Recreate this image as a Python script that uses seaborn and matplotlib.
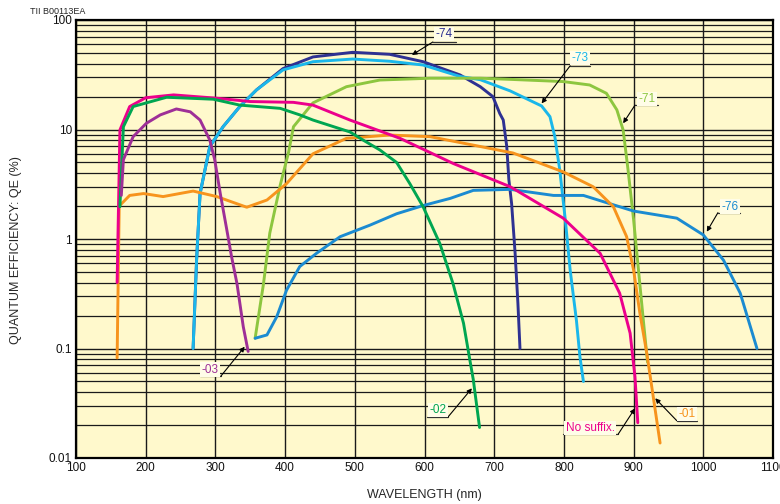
import numpy as np
import pandas as pd
import matplotlib
matplotlib.use("Agg")
import matplotlib.pyplot as plt
import matplotlib.ticker as mticker
import seaborn as sns

# ---------------- data (wavelength nm, QE %) ----------------
wl_74 = [268, 273, 278, 292, 311, 335, 359, 397, 440, 497, 550, 598, 651, 680, 698, 708, 713, 718, 721, 725, 730, 734, 737]
qe_74 = [0.1, 0.64, 2.6, 7.0, 10.6, 16.2, 23, 36, 46, 50.7, 48.6, 41.6, 31.5, 24.6, 20, 14, 12.2, 7.0, 3.5, 2.1, 0.74, 0.26, 0.10]

wl_73 = [268, 273, 278, 292, 311, 335, 359, 397, 440, 497, 550, 598, 651, 680, 723, 768, 780, 787, 794, 802, 809, 818, 823, 828]
qe_73 = [0.1, 0.64, 2.6, 7.0, 10.6, 16.2, 23, 35, 41.6, 44, 42, 38.8, 30.5, 28.5, 22.5, 16.4, 13.1, 8.6, 4.3, 1.5, 0.52, 0.18, 0.084, 0.05]

wl_71 = [357, 369, 378, 393, 405, 412, 440, 488, 536, 608, 680, 723, 799, 837, 861, 876, 885, 892, 900, 907, 914, 920]
qe_71 = [0.124, 0.39, 1.13, 3.1, 6.2, 10.6, 17.5, 24.6, 28.3, 29.4, 29.4, 28.7, 27.4, 25.5, 21.4, 15.1, 9.9, 4.3, 1.5, 0.52, 0.18, 0.075]

wl_76 = [357, 374, 388, 402, 421, 445, 479, 522, 560, 598, 637, 670, 723, 785, 828, 866, 900, 962, 1000, 1029, 1053, 1077]
qe_76 = [0.124, 0.133, 0.195, 0.34, 0.56, 0.74, 1.05, 1.34, 1.7, 2.02, 2.35, 2.78, 2.84, 2.5, 2.5, 2.1, 1.8, 1.55, 1.09, 0.64, 0.32, 0.10]

wl_01 = [159, 162, 177, 197, 225, 268, 302, 345, 374, 402, 440, 488, 550, 608, 670, 727, 799, 842, 871, 890, 900, 909, 919, 938]
qe_01 = [0.082, 2.0, 2.5, 2.6, 2.44, 2.74, 2.44, 1.95, 2.27, 3.2, 6.0, 8.3, 8.9, 8.6, 7.2, 6.1, 4.1, 3.0, 1.97, 1.05, 0.52, 0.21, 0.09, 0.0137]

wl_ns = [159, 163, 177, 200, 240, 302, 350, 412, 440, 493, 565, 641, 723, 799, 852, 880, 895, 902, 906]
qe_ns = [0.40, 9.9, 16.2, 19.5, 20.7, 19.3, 18, 17.7, 16.7, 12.2, 8.3, 4.9, 3.0, 1.55, 0.74, 0.32, 0.138, 0.055, 0.021]

wl_02 = [163, 168, 182, 230, 297, 335, 393, 421, 440, 493, 512, 536, 560, 579, 598, 622, 641, 656, 665, 670, 679]
qe_02 = [1.97, 10.6, 16.2, 19.7, 18.9, 16.7, 15.6, 13.6, 12.2, 9.5, 8.0, 6.5, 5.0, 3.2, 1.97, 0.91, 0.39, 0.17, 0.079, 0.052, 0.019]

wl_03 = [165, 168, 182, 201, 221, 244, 264, 278, 292, 299, 307, 316, 323, 331, 340, 347]
qe_03 = [2.5, 5.3, 8.6, 11.4, 13.6, 15.4, 14.5, 12.2, 8.0, 5.3, 2.6, 1.25, 0.7, 0.39, 0.158, 0.094]

series_order = ["-74", "-73", "-71", "-76", "-01", "No suffix.", "-02", "-03"]
series_data = {
    "-74": (wl_74, qe_74), "-73": (wl_73, qe_73), "-71": (wl_71, qe_71),
    "-76": (wl_76, qe_76), "-01": (wl_01, qe_01), "No suffix.": (wl_ns, qe_ns),
    "-02": (wl_02, qe_02), "-03": (wl_03, qe_03),
}
colors = {
    "-74": "#2e3192", "-73": "#1ab7ea", "-71": "#8dc63f", "-76": "#1b8bd1",
    "-01": "#f7941d", "No suffix.": "#ec008c", "-02": "#00a651", "-03": "#9e2f97",
}

x_ticks = [100, 200, 300, 400, 500, 600, 700, 800, 900, 1000, 1100]
y_ticks = [0.01, 0.1, 1, 10, 100]
y_tick_labels = ["0.01", "0.1", "1", "10", "100"]

# label annotations: (text xy, arrow tip xy, underline start (joint), underline other end)
labels = {
    "-74": ((628, 74.5), (582, 47.9), (612, 63), (645, 63)),
    "-73": ((823, 45), (768, 17.3), (809, 38.2), (837, 38.2)),
    "-71": ((919, 19.0), (885, 11.4), (902, 16.7), (935, 16.7)),
    "-76": ((1038, 1.97), (1005, 1.166), (1021, 1.74), (1053, 1.74)),
    "-03": ((292, 0.0643), (342, 0.1038), (308, 0.0561), (278, 0.0561)),
    "-02": ((619, 0.0274), (668, 0.0433), (634, 0.0238), (603, 0.0238)),
    "No suffix.": ((838, 0.0188), (902, 0.0284), (878, 0.01656), (798, 0.01656)),
    "-01": ((976, 0.0252), (931, 0.0351), (962, 0.0219), (991, 0.0219)),
}

# ---------------- build frame ----------------
rows = []
for name in series_order:
    wl, qe = series_data[name]
    for w, q in zip(wl, qe):
        rows.append({"series": name, "wl": w, "qe": q})
df = pd.DataFrame(rows)

sns.set_style("white")
plt.rcParams["font.family"] = ["Liberation Sans", "DejaVu Sans"]

fig = plt.figure(figsize=(7.8, 5.04), dpi=100)
ax = fig.add_axes([76 / 780, 1 - 458 / 504, (773 - 76) / 780, (458 - 20) / 504])
ax.set_facecolor("#fff9cc")

sns.lineplot(data=df, x="wl", y="qe", hue="series", hue_order=series_order,
             palette=colors, estimator=None, sort=False, linewidth=2.1,
             legend=False, ax=ax, zorder=3)

ax.set_yscale("log")
ax.set_xlim(100, 1100)
ax.set_ylim(0.01, 100)
ax.set_xticks(x_ticks)
ax.set_xticklabels([str(t) for t in x_ticks])
ax.set_yticks(y_ticks)
ax.set_yticklabels(y_tick_labels)
ax.yaxis.set_minor_locator(mticker.LogLocator(base=10, subs=np.arange(2, 10)))
ax.yaxis.set_minor_formatter(mticker.NullFormatter())
ax.xaxis.set_minor_locator(mticker.NullLocator())
ax.tick_params(axis="both", which="both", length=0, labelsize=8.5, pad=3, colors="#111111")

ax.grid(True, which="major", axis="both", color="#1a1a1a", linewidth=1.0, zorder=1)
ax.grid(True, which="minor", axis="y", color="#1a1a1a", linewidth=0.9, zorder=1)
ax.set_axisbelow(True)
for s in ax.spines.values():
    s.set_visible(True)
    s.set_color("black")
    s.set_linewidth(1.6)

ax.set_xlabel("WAVELENGTH (nm)", fontsize=9, labelpad=11)
ax.set_ylabel("QUANTUM EFFICIENCY: QE (%)", fontsize=9)
ax.yaxis.set_label_coords(-0.078, 0.475)

for name, (txy, tip, joint, other) in labels.items():
    ax.plot([joint[0], other[0]], [joint[1], other[1]], color="#333333", lw=0.9, zorder=5)
    ax.annotate("", xy=tip, xytext=joint,
                arrowprops=dict(arrowstyle="-|>", color="black", lw=0.8,
                                mutation_scale=7, shrinkA=0, shrinkB=0),
                zorder=6)
    ax.text(txy[0], txy[1], name, color=colors[name], fontsize=8.5,
            ha="center", va="center", zorder=7,
            bbox=dict(boxstyle="square,pad=0.12", facecolor="#fffde8", edgecolor="none"))

fig.text(30 / 780, 1 - 16 / 504, "TII B00113EA", fontsize=6.5, ha="left", va="bottom")

fig.savefig("out.png", dpi=100)
